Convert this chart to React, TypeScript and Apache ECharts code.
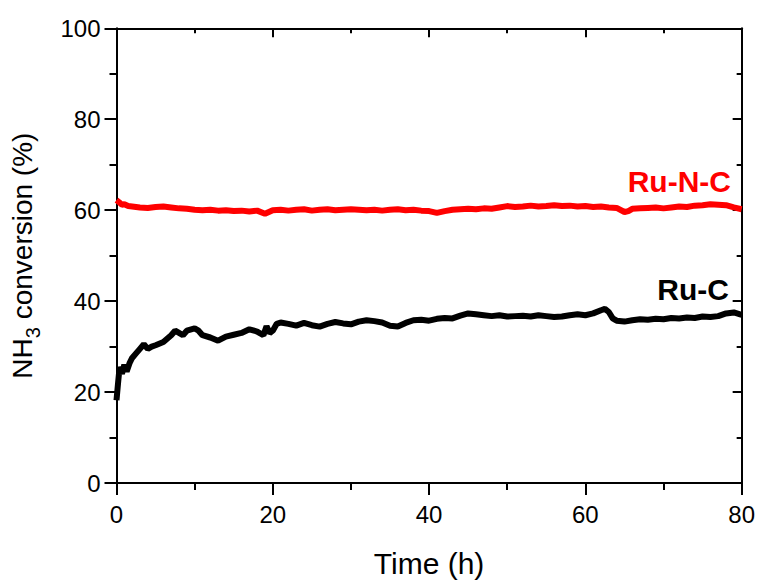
import React, { useEffect, useRef } from "react";
import * as echarts from "echarts";

const FONT = "'Liberation Sans', Arial, sans-serif";

const xTicks = [0, 20, 40, 60, 80];
const yTicks = [0, 20, 40, 60, 80, 100];

const ruCTime = [0, 0.2, 0.4, 0.7, 1.0, 1.3, 1.7, 2.0, 2.5, 3, 3.5, 4, 4.5, 5, 6, 7, 7.5, 8, 8.5, 9, 10, 10.5, 11, 12, 13, 14, 15, 16, 17, 18, 18.8, 19.2, 19.6, 20, 20.5, 21, 22, 23, 24, 25, 26, 27, 28, 29, 30, 31, 32, 33, 34, 35, 36, 37, 38, 39, 40, 41, 42, 43, 44, 45, 46, 47, 48, 49, 50, 51, 52, 53, 54, 55, 56, 57, 58, 59, 60, 61, 62, 62.5, 63, 63.5, 64, 65, 66, 67, 68, 69, 70, 71, 72, 73, 74, 75, 76, 77, 78, 79, 80];
const ruCValues = [18.2, 22, 25.5, 24, 26, 24.5, 26.5, 27.5, 28.5, 29.5, 30.5, 29.5, 30, 30.3, 31, 32.5, 33.5, 33, 32.5, 33.5, 34, 33.5, 32.5, 32, 31.3, 32.2, 32.6, 33, 33.8, 33.3, 32.5, 34.5, 33, 33.5, 35, 35.3, 35, 34.6, 35.2, 34.7, 34.4, 35, 35.4, 35.1, 34.9, 35.5, 35.8, 35.6, 35.3, 34.6, 34.4, 35.2, 35.8, 35.9, 35.7, 36.1, 36.3, 36.2, 36.8, 37.3, 37.1, 36.9, 36.7, 36.9, 36.6, 36.7, 36.8, 36.6, 36.9, 36.7, 36.5, 36.6, 36.9, 37.1, 36.9, 37.3, 38, 38.3, 37.6, 36.2, 35.7, 35.5, 35.8, 36, 35.9, 36.1, 36, 36.3, 36.2, 36.4, 36.3, 36.6, 36.5, 36.7, 37.3, 37.5, 37];

const ruNCTime = [0, 0.3, 0.7, 1, 1.5, 2, 3, 4, 5, 6, 7, 8, 9, 10, 11, 12, 13, 14, 15, 16, 17, 18, 19, 19.5, 20, 21, 22, 23, 24, 25, 26, 27, 28, 29, 30, 31, 32, 33, 34, 35, 36, 37, 38, 39, 40, 41, 42, 43, 44, 45, 46, 47, 48, 49, 50, 51, 52, 53, 54, 55, 56, 57, 58, 59, 60, 61, 62, 63, 64, 65, 65.5, 66, 67, 68, 69, 70, 71, 72, 73, 74, 75, 76, 77, 78, 79, 80];
const ruNCValues = [62.2, 61.8, 61.2, 61.3, 60.9, 60.8, 60.6, 60.5, 60.7, 60.8, 60.6, 60.4, 60.3, 60.1, 60, 60.1, 59.9, 60, 59.8, 59.9, 59.7, 59.9, 59.2, 59.6, 60, 60.1, 59.9, 60.1, 60.2, 59.9, 60.1, 60.2, 60, 60.1, 60.2, 60.1, 60, 60.1, 59.9, 60.1, 60.2, 60, 60.1, 59.9, 59.8, 59.4, 59.8, 60.1, 60.2, 60.3, 60.2, 60.4, 60.3, 60.6, 60.9, 60.7, 60.8, 61, 60.8, 60.9, 61.1, 60.9, 61, 60.8, 60.9, 60.7, 60.8, 60.6, 60.5, 59.6, 59.8, 60.3, 60.4, 60.5, 60.6, 60.4, 60.6, 60.8, 60.7, 61, 61.1, 61.3, 61.2, 61.1, 60.6, 60.2];

const seriesNames = ["Ru-C", "Ru-N-C"];
const seriesColors = ["#000000", "#ff0000"];

export default function App() {
  const ref = useRef<HTMLDivElement>(null);
  useEffect(() => {
    if (!ref.current) return;
    const chart = echarts.init(ref.current, null, { renderer: "svg" });
    const axisLine = { show: true, onZero: false, lineStyle: { color: "#000", width: 2 } };
    const common = {
      type: "value" as const,
      splitLine: { show: false },
      axisLine,
    };
    const xMin = xTicks[0];
    const xMax = xTicks[xTicks.length - 1];
    const yMin = yTicks[0];
    const yMax = yTicks[yTicks.length - 1];
    chart.setOption({
      animation: false,
      backgroundColor: "#ffffff",
      grid: { left: 116.5, right: 15.5, top: 28.3, bottom: 92.3, containLabel: false },
      xAxis: [
        {
          ...common,
          position: "bottom",
          min: xMin,
          max: xMax,
          interval: 20,
          axisTick: { show: true, inside: false, length: 12, lineStyle: { color: "#000", width: 2 } },
          minorTick: { show: true, splitNumber: 2, length: 7, lineStyle: { color: "#000", width: 2 } },
          axisLabel: { show: true, fontSize: 24, color: "#000", fontFamily: FONT, margin: 19 },
          name: "Time (h)",
          nameLocation: "middle",
          nameGap: 65,
          nameTextStyle: { fontSize: 30, color: "#000", fontFamily: FONT },
        },
        {
          ...common,
          position: "top",
          min: xMin,
          max: xMax,
          interval: 20,
          axisTick: { show: true, inside: true, length: 9, lineStyle: { color: "#000", width: 2 } },
          minorTick: { show: true, splitNumber: 2, length: 5, lineStyle: { color: "#000", width: 2 } },
          axisLabel: { show: false },
        },
      ],
      yAxis: [
        {
          ...common,
          position: "left",
          min: yMin,
          max: yMax,
          interval: 20,
          axisTick: { show: true, inside: false, length: 12, lineStyle: { color: "#000", width: 2 } },
          minorTick: { show: true, splitNumber: 2, length: 7, lineStyle: { color: "#000", width: 2 } },
          axisLabel: { show: true, fontSize: 24, color: "#000", fontFamily: FONT, margin: 16 },
          name: "{n|NH}{s|3}{n| conversion (%)}",
          nameLocation: "middle",
          nameGap: 74,
          nameRotate: 90,
          nameTextStyle: {
            color: "#000",
            fontFamily: FONT,
            fontSize: 28,
            rich: {
              n: { fontSize: 28, fontFamily: FONT, color: "#000", lineHeight: 40, verticalAlign: "middle" },
              s: { fontSize: 20, fontFamily: FONT, color: "#000", lineHeight: 40, verticalAlign: "bottom" },
            },
          },
        },
        {
          ...common,
          position: "right",
          min: yMin,
          max: yMax,
          interval: 20,
          axisTick: { show: true, inside: true, length: 9, lineStyle: { color: "#000", width: 2 } },
          minorTick: { show: true, splitNumber: 2, length: 5, lineStyle: { color: "#000", width: 2 } },
          axisLabel: { show: false },
        },
      ],
      series: [
        {
          name: seriesNames[0],
          type: "line",
          xAxisIndex: 0,
          yAxisIndex: 0,
          data: ruCTime.map((t, i) => [t, ruCValues[i]]),
          showSymbol: false,
          symbol: "none",
          lineStyle: { color: seriesColors[0], width: 6 },
          z: 3,
        },
        {
          name: seriesNames[1],
          type: "line",
          xAxisIndex: 0,
          yAxisIndex: 0,
          data: ruNCTime.map((t, i) => [t, ruNCValues[i]]),
          showSymbol: false,
          symbol: "none",
          lineStyle: { color: seriesColors[1], width: 6 },
          z: 3,
        },
      ],
      graphic: [
        {
          type: "text",
          x: 731,
          y: 181,
          style: {
            text: seriesNames[1],
            fill: seriesColors[1],
            font: `bold 30px ${FONT}`,
            textAlign: "right",
            textVerticalAlign: "middle",
          },
        },
        {
          type: "text",
          x: 729,
          y: 289,
          style: {
            text: seriesNames[0],
            fill: seriesColors[0],
            font: `bold 30px ${FONT}`,
            textAlign: "right",
            textVerticalAlign: "middle",
          },
        },
      ],
    });
    return () => chart.dispose();
  }, []);
  return (
    <div
      ref={ref}
      style={{ position: "fixed", left: 0, top: 0, width: 758, height: 583, background: "#fff" }}
    />
  );
}
